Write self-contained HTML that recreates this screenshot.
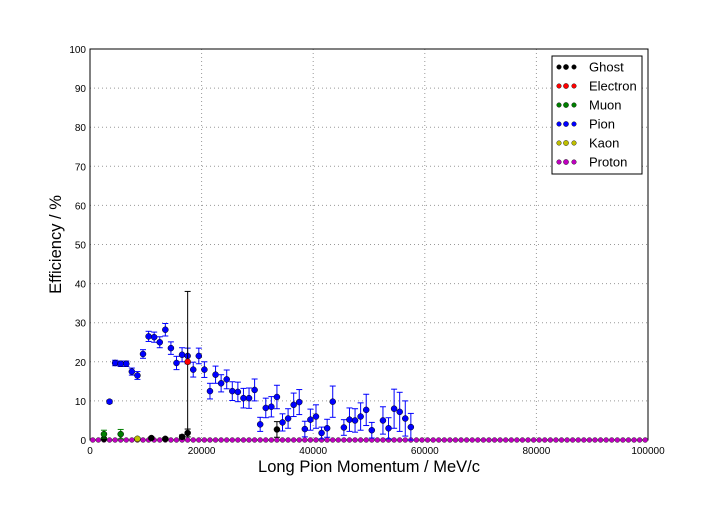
<!DOCTYPE html>
<html><head><meta charset="utf-8"><style>
body{margin:0;background:#fff;width:720px;height:504px;overflow:hidden}
svg{font-family:"Liberation Sans","DejaVu Sans",sans-serif}
</style></head><body>
<svg id="c" width="720" height="504"></svg>
<script>
const pionX=[3500,4500,5500,6500,7500,8500,9500,10500,11500,12500,13500,14500,15500,16500,17500,18500,19500,20500,21500,22500,23500,24500,25500,26500,27500,28500,29500,30500,31500,32500,33500,34500,35500,36500,37500,38500,39500,40500,41500,42500,43500,45500,46500,47500,48500,49500,50500,52500,53500,54500,55500,56500,57500];
const pionY=[9.8,19.7,19.5,19.5,17.5,16.5,22,26.5,26.3,25,28.2,23.5,19.7,21.8,21.5,18,21.5,18,12.5,16.7,14.5,15.5,12.5,12.3,10.7,10.7,12.8,4,8.2,8.5,11,4.5,5.5,9,9.7,2.8,5.2,6,1.8,3,9.8,3.2,5.2,5,6,7.7,2.5,5,3,8,7.2,5.5,3.3];
const pionErr=[0.4,0.7,0.7,0.7,0.9,1,1.1,1.3,1.3,1.4,1.6,1.6,1.7,1.8,2,1.9,2,2,2,2.2,2.2,2.4,2.4,2.5,2.5,2.6,2.8,1.8,2.5,2.6,3,2.2,2.5,3,3.2,2,2.7,3,1.5,2.3,4,2,3,3,3.5,4,2,3.5,2.7,5,5,4.5,3.5];
const ghostX=[2500,11000,13500,16500,17500,33500];
const ghostY=[0.3,0.5,0.3,0.8,1.8,2.7];
const ghostErr=[0.3,0.3,0.3,0.5,1,2];
const electronX=[17500];const electronY=[20];const electronErr=[18];
const muonX=[2500,5500];const muonY=[1.5,1.5];const muonErr=[1,1.2];
const kaonX=[8500];const kaonY=[0.3];const kaonErr=[0.3];
const xTicks=[0,20000,40000,60000,80000,100000];
const yTicks=[0,10,20,30,40,50,60,70,80,90,100];
const L=90,R=648,T=49,B=440;
const sx=v=>L+v/100000*(R-L), sy=v=>B-v/100*(B-T);
const svg=document.getElementById('c');const NS='http://www.w3.org/2000/svg';
function el(t,a,p){const e=document.createElementNS(NS,t);for(const k in a)e.setAttribute(k,a[k]);(p||svg).appendChild(e);return e;}
xTicks.forEach(v=>{const g=el('line',{x1:sx(v),x2:sx(v),y1:T,y2:B,stroke:'#999','stroke-dasharray':'1,3'});


const t=el('text',{x:sx(v),y:B+14,'font-size':10,'text-anchor':'middle'});t.textContent=v;

});
yTicks.forEach(v=>{const g=el('line',{x1:L,x2:R,y1:sy(v),y2:sy(v),stroke:'#999','stroke-dasharray':'1,3'});


const t=el('text',{x:L-4,y:sy(v)+4,'font-size':10,'text-anchor':'end'});t.textContent=v;

});
const fr=el('rect',{x:L,y:T,width:R-L,height:B-T,fill:'none',stroke:'#000'});


for(let v=500;v<100000;v+=1000){const c=el('circle',{cx:sx(v),cy:B,r:2.5,fill:'#bf00bf',stroke:'#333','stroke-width':0.5});

}
function series(xs,ys,es,col,name,capCol){xs.forEach((x,i)=>{const px=sx(x),py=sy(ys[i]),e=es[i];
const ln=el('line',{x1:px,x2:px,y1:sy(ys[i]+e),y2:sy(Math.max(0,ys[i]-e)),stroke:capCol,'stroke-width':1});


[ys[i]+e,Math.max(0,ys[i]-e)].forEach(v=>{const cp=el('line',{x1:px-3,x2:px+3,y1:sy(v),y2:sy(v),stroke:capCol});

});
const h=el('line',{x1:px-2.8,x2:px+2.8,y1:py,y2:py,stroke:capCol});


const c=el('circle',{cx:px,cy:py,r:3,fill:col,stroke:'#000','stroke-width':0.5});

});}
series(pionX,pionY,pionErr,'#0000ff','pion','#0000ff');
series(electronX,electronY,electronErr,'#ff0000','electron','#000');
series(ghostX,ghostY,ghostErr,'#000','ghost','#000');
series(muonX,muonY,muonErr,'#007f00','muon','#007f00');
series(kaonX,kaonY,kaonErr,'#bfbf00','kaon','#000');
const xt=el('text',{x:(L+R)/2,y:472,'font-size':16.5,'text-anchor':'middle'});xt.textContent='Long Pion Momentum / MeV/c';


const yt=el('text',{x:0,y:0,'font-size':16.5,'text-anchor':'middle',transform:`translate(61,${(T+B)/2}) rotate(-90)`});yt.textContent='Efficiency / %';


const lg=el('g',{});


el('rect',{x:552,y:56,width:90,height:118,fill:'#fff',stroke:'#000'},lg);
const names=['Ghost','Electron','Muon','Pion','Kaon','Proton'];
const cols=['#000','#ff0000','#007f00','#0000ff','#bfbf00','#bf00bf'];
names.forEach((n,i)=>{const y=67+i*19;const g=el('g',{},lg);


[559,566,574].forEach((x,j)=>el('circle',{cx:x,cy:y,r:j==1?2.6:2.3,fill:cols[i],stroke:'#000','stroke-width':0.4},g));
const t=el('text',{x:589,y:y+4.5,'font-size':13},g);t.textContent=n;});
</script>
</body></html>
